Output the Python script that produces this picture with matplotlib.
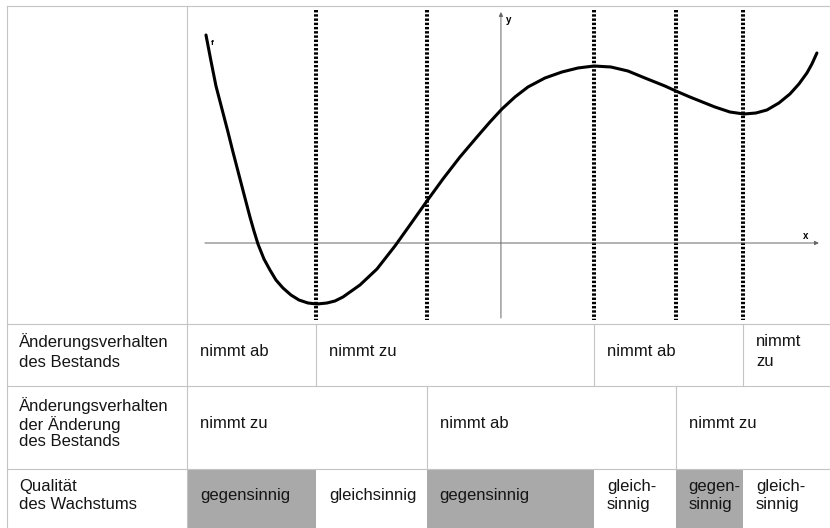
import matplotlib
matplotlib.use("Agg")
import matplotlib.pyplot as plt

plt.rcParams["font.family"] = ["Liberation Sans", "DejaVu Sans"]

# curve f as pixel readings (x, y) of the drawing, converted below to graph units
curve_px = [206, 211, 216, 222, 228, 233, 239, 245, 250, 254, 258, 264, 270, 276,
            283, 291, 299, 308, 317, 327, 335, 343, 360, 377, 395, 410, 427, 443,
            460, 477, 490, 502, 515, 528, 545, 562, 578, 594, 611, 628, 645, 665,
            676, 690, 700, 715, 730, 744, 756, 767, 779, 790, 799, 807, 812, 817]
curve_py = [35, 61, 86, 109, 132, 152, 175, 198, 217, 231, 244, 259, 270, 280,
            288, 295, 300, 303, 304, 303, 301, 297, 285, 269, 246, 225, 201, 179,
            157, 137, 122, 109, 97, 87, 78, 72, 68, 66, 67, 71, 78, 86,
            91, 97, 101, 107, 112, 114, 113, 110, 103, 94, 84, 73, 64, 53]

# graph units: origin at the axis cross, 1 unit = 30 px
curve_x = [(p - 501) / 30 for p in curve_px]
curve_y = [(243 - p) / 30 for p in curve_py]

# extrema and inflection points of f
marks_x = [-6.17, -2.47, 3.1, 5.83, 8.07]

row_labels = [
    "Änderungsverhalten\ndes Bestands",
    "Änderungsverhalten\nder Änderung\ndes Bestands",
    "Qualität\ndes Wachstums",
]
# each row: indices into marks_x that bound its cells, and the cell texts
row_cuts = [[0, 2, 4], [1, 3], [0, 1, 2, 3, 4]]
row_texts = [
    ["nimmt ab", "nimmt zu", "nimmt ab", "nimmt\nzu"],
    ["nimmt zu", "nimmt ab", "nimmt zu"],
    ["gegensinnig", "gleichsinnig", "gegensinnig", "gleich-\nsinnig",
     "gegen-\nsinnig", "gleich-\nsinnig"],
]
row_shaded = [[], [], [0, 2, 4]]
row_spacing = [1.45, 1.12, 1.32]

X0, X1 = -16.7, 10.97
Y0, Y1 = -9.5, 8.1
frame_left, col_sep = -16.47, -10.47
top = 7.9
row_edges = [-2.7, -4.77, -7.53, -9.5]
row_lift = [0.12, 0.14, 0.1]

fig = plt.figure(figsize=(8.3, 5.28), dpi=100)
ax = fig.add_axes([0, 0, 1, 1])
ax.set_xlim(X0, X1)
ax.set_ylim(Y0, Y1)
ax.axis("off")

grid = dict(color="#c4c4c4", lw=0.8, zorder=1)
txt = dict(fontsize=12, va="center", ha="left", color="#151515")

# table frame
ax.plot([frame_left, X1], [top, top], **grid)
ax.plot([frame_left, frame_left], [top, Y0], **grid)
ax.plot([col_sep, col_sep], [top, Y0], **grid)
for y in row_edges[:-1]:
    ax.plot([frame_left, X1], [y, y], **grid)

# rows below the graph
for r, (label, cuts, texts) in enumerate(zip(row_labels, row_cuts, row_texts)):
    y_hi, y_lo = row_edges[r], row_edges[r + 1]
    yc = (y_hi + y_lo) / 2 + row_lift[r]
    ax.text(-16.07, yc, label, linespacing=row_spacing[r], **txt)
    bounds = [col_sep] + [marks_x[i] for i in cuts] + [X1]
    for c, text in enumerate(texts):
        xa, xb = bounds[c], bounds[c + 1]
        if c in row_shaded[r]:
            ax.fill_between([xa, xb], y_lo, y_hi, color="#a9a9a9", lw=0, zorder=0)
        elif r < 2 and c > 0:
            ax.plot([xa, xa], [y_hi, y_lo], **grid)
        ax.text(xa + 0.43, yc, text, linespacing=row_spacing[r], **txt)

# coordinate axes
ax.annotate("", xy=(10.6, 0), xytext=(-9.87, 0),
            arrowprops=dict(arrowstyle="-|>", color="#666666", lw=0.7,
                            mutation_scale=6, shrinkA=0, shrinkB=0))
ax.annotate("", xy=(0, 7.7), xytext=(0, -2.5),
            arrowprops=dict(arrowstyle="-|>", color="#666666", lw=0.7,
                            mutation_scale=6, shrinkA=0, shrinkB=0))
ax.text(10.17, 0.22, "x", fontsize=7, fontweight="bold", ha="center", va="center")
ax.text(0.25, 7.43, "y", fontsize=7, fontweight="bold", ha="center", va="center")
ax.text(-9.63, 6.65, "f", fontsize=6, fontweight="bold", ha="center", va="center")

# dotted separators at the extrema and inflection points
for mx in marks_x:
    ax.plot([mx, mx], [7.77, -2.57], color="black", lw=2.9,
            linestyle=(0, (0.6, 0.45)), dash_capstyle="butt", zorder=2)

ax.plot(curve_x, curve_y, color="black", lw=2.2, solid_joinstyle="round",
        solid_capstyle="round", zorder=3)

fig.savefig("out.png", dpi=100)
